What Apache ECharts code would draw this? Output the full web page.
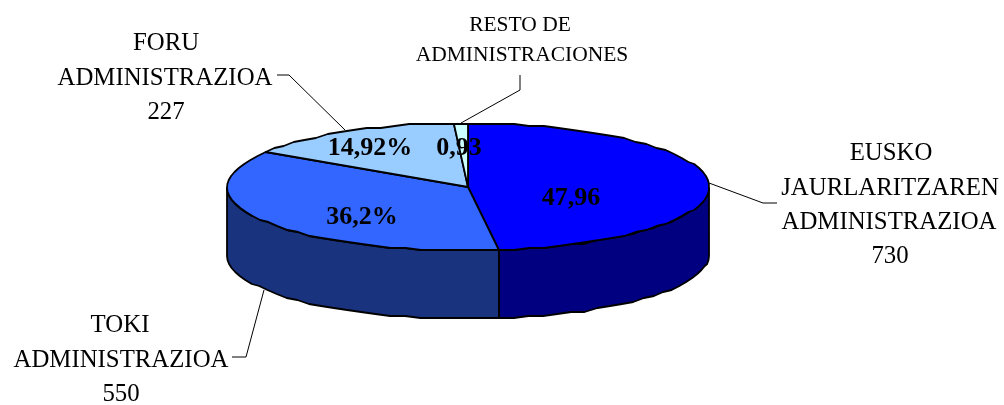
<!DOCTYPE html>
<html>
<head>
<meta charset="utf-8">
<script src="https://cdn.jsdelivr.net/npm/echarts@6/dist/echarts.min.js"></script>
<style>
html, body { margin: 0; background: #fff; }
#main { width: 1004px; height: 405px; }
</style>
</head>
<body>
<div id="main"></div>
<script>
var categories = ["EUSKO JAURLARITZAREN ADMINISTRAZIOA", "TOKI ADMINISTRAZIOA", "FORU ADMINISTRAZIOA", "RESTO DE ADMINISTRACIONES"];
var percents = [47.96, 36.2, 14.92, 0.93];
var percentLabels = ["47,96", "36,2%", "14,92%", "0,93"];
var counts = [730, 550, 227];
var colors = ["#0000ff", "#3366ff", "#99ccff", "#ccffff"];
var wallColors = ["#000080", "#19337f", "#4c667f", "#667f7f"];

// pie shape, the library has no tilted pie so it is worked out here
var cx = 468, cy = 187, rx = 241, ry = 64, depth = 68;
var total = percents.reduce(function (a, b) { return a + b; }, 0);

// the original outline is slightly faceted, so y snaps to a small grid
function pt(a, dy) {
  var y = cy - ry * Math.cos(a);
  return [cx + rx * Math.sin(a), Math.round(y / 2) * 2 + (dy || 0)];
}

function arc(a0, a1, dy) {
  var pts = [];
  var step = Math.PI / 48;
  var n = Math.max(1, Math.ceil((a1 - a0) / step));
  for (var i = 0; i <= n; i++) {
    pts.push(pt(a0 + (a1 - a0) * i / n, dy));
  }
  return pts;
}

var sliceData = [];
var sum = 0;
percents.forEach(function (p, i) {
  sliceData.push({ name: categories[i], value: [sum, sum + p, i] });
  sum += p;
});

function renderSlice(params, api) {
  var i = api.value(2);
  var a0 = api.value(0) / total * Math.PI * 2;
  var a1 = api.value(1) / total * Math.PI * 2;
  var children = [];
  var lo = Math.max(a0, Math.PI / 2);
  var hi = Math.min(a1, Math.PI * 1.5);
  if (lo < hi) {
    var top = arc(lo, hi, 0);
    var bottom = arc(lo, hi, depth).reverse();
    children.push({
      type: "polygon",
      shape: { points: top.concat(bottom) },
      style: { fill: wallColors[i], stroke: "#000", lineWidth: 1.8, lineJoin: "round" }
    });
  }
  children.push({
    type: "polygon",
    shape: { points: [[cx, cy]].concat(arc(a0, a1, 0)) },
    style: { fill: colors[i], stroke: "#000", lineWidth: 1.8, lineJoin: "round" }
  });
  return { type: "group", children: children };
}

var serif = "'Liberation Serif', 'Times New Roman', serif";

function text(str, x, y, size, bold) {
  return {
    type: "text",
    z: 10,
    x: x,
    y: y,
    style: {
      text: str,
      fill: "#000",
      font: (bold ? "bold " : "") + size + "px " + serif,
      textAlign: "center",
      textVerticalAlign: "middle"
    }
  };
}

function leader(points) {
  return {
    type: "polyline",
    z: 9,
    shape: { points: points },
    style: { stroke: "#000", lineWidth: 1, fill: null }
  };
}

var myChart = echarts.init(document.getElementById("main"), null, { renderer: "canvas" });

var option = {
  backgroundColor: "#fff",
  animation: false,
  series: [
    {
      type: "custom",
      coordinateSystem: "none",
      renderItem: renderSlice,
      data: sliceData
    }
  ],
  graphic: [
    leader([[709, 183], [763, 203], [777, 203]]),
    leader([[264, 290], [246, 357], [232, 357]]),
    leader([[345, 130], [289, 75], [277, 75]]),
    leader([[461, 123], [520, 90], [520, 75]]),
    text(percentLabels[0], 571, 198, 26, true),
    text(percentLabels[1], 362, 217, 26, true),
    text(percentLabels[2], 370, 148, 26, true),
    text(percentLabels[3], 459, 148, 26, true),
    text("EUSKO", 891, 153, 24.8),
    text("JAURLARITZAREN", 890, 188, 24.8),
    text("ADMINISTRAZIOA", 889, 222, 24.8),
    text(String(counts[0]), 890, 256, 24.8),
    text("TOKI", 120, 325, 24.8),
    text("ADMINISTRAZIOA", 121, 360, 24.8),
    text(String(counts[1]), 121, 394, 24.8),
    text("FORU", 166, 43, 24.8),
    text("ADMINISTRAZIOA", 165, 78, 24.8),
    text(String(counts[2]), 166, 112, 24.8),
    text("RESTO DE", 520, 25, 21.5),
    text("ADMINISTRACIONES", 522, 55, 21.5)
  ]
};

myChart.setOption(option);
</script>
</body>
</html>
